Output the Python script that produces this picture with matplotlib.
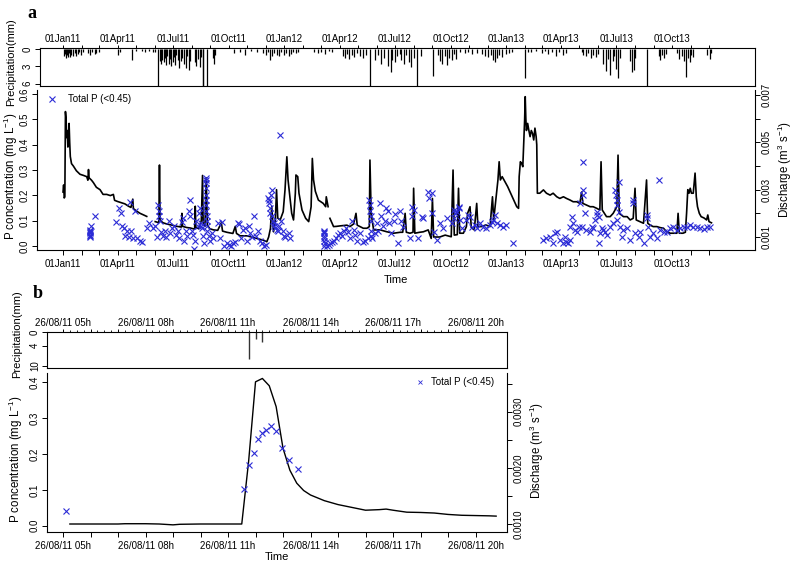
import matplotlib
matplotlib.use("Agg")
import matplotlib.pyplot as plt
from matplotlib.lines import Line2D
from datetime import datetime, timedelta
import numpy as np

plt.rcParams['font.family'] = ['Liberation Sans', 'DejaVu Sans']
plt.rcParams['mathtext.fontset'] = 'custom'
plt.rcParams['mathtext.rm'] = 'Liberation Sans'
plt.rcParams['mathtext.it'] = 'Liberation Sans:italic'
plt.rcParams['mathtext.bf'] = 'Liberation Sans:bold'

# ===================== DATA : panel a (days since 2011-01-01) =====================
# discharge, in 10^-3 m3/s, three continuous segments (gaps between them)
discharge_a_seg1 = [
    (0, 2.9), (1, 3.2), (2, 2.65), (3, 2.7), (4, 6.3), (5, 6.0), (6, 5.2), (7, 5.5), (8, 4.8),
    (9, 5.0), (10, 5.8), (11, 5.0), (12, 4.4), (14, 4.1), (17, 4.0), (22, 3.8), (28, 3.65),
    (34, 3.6), (39, 3.55), (41, 3.4), (42, 3.85), (43, 3.5), (47, 3.4), (50, 3.3), (55, 3.1),
    (61, 3.0), (66, 2.8), (72, 2.8), (78, 2.75), (83, 2.8), (85, 2.55), (90, 2.5), (96, 2.45),
    (102, 2.4), (108, 2.3), (112, 2.25), (115, 2.6), (116, 2.2), (121, 2.1), (127, 2.0),
    (133, 1.93), (138, 1.87)]
discharge_a_seg2 = [
    (152, 1.65), (156, 1.62), (158, 1.6), (159, 4.04), (160, 1.7), (165, 1.6), (171, 1.55),
    (180, 1.5), (188, 1.45), (195, 1.42), (196, 2.0), (197, 1.45), (204, 1.4), (210, 1.38),
    (217, 1.33), (218, 2.3), (219, 1.4), (224, 1.35), (228, 1.7), (230, 3.6), (231, 1.6),
    (234, 1.45), (236, 3.5), (238, 1.5), (242, 1.35), (248, 1.3), (255, 1.28), (261, 1.6),
    (263, 1.25), (270, 1.2), (280, 1.15), (284, 1.45), (286, 1.15), (292, 1.05), (303, 1.05),
    (314, 0.98), (325, 0.9), (331, 0.86), (336, 0.8), (339, 1.0), (342, 1.37), (344, 2.28),
    (347, 1.22), (350, 1.72), (352, 3.0), (354, 1.8), (358, 1.72), (363, 2.07), (366, 3.0),
    (369, 4.39), (371, 3.41), (374, 2.7), (377, 2.0), (380, 1.72), (383, 2.85), (384, 3.62),
    (387, 3.55), (389, 2.85), (394, 2.14), (400, 1.79), (405, 1.65), (409, 2.28), (411, 4.32),
    (413, 3.41), (416, 2.93), (421, 2.56), (429, 2.42), (433, 2.28), (434, 2.7), (437, 2.28)]
discharge_a_seg3 = [
    (440, 1.79), (446, 1.44), (451, 1.45), (457, 1.47), (468, 1.5), (473, 1.44), (479, 1.55),
    (483, 2.0), (485, 1.5), (495, 1.37), (501, 1.37), (505, 1.44), (506, 4.25), (508, 2.0),
    (512, 1.3), (523, 1.3), (534, 1.22), (545, 1.16), (556, 1.2), (560, 1.2), (564, 2.0),
    (566, 1.2), (572, 1.16), (577, 1.2), (578, 3.06), (580, 1.16), (588, 1.2), (594, 1.22),
    (602, 1.3), (607, 0.94), (609, 2.63), (611, 1.0), (621, 1.0), (630, 1.08), (640, 1.01),
    (643, 3.83), (645, 1.08), (650, 1.1), (652, 3.06), (654, 1.16), (660, 1.16), (665, 1.44),
    (667, 2.0), (671, 2.28), (673, 1.4), (678, 1.3), (682, 2.42), (684, 1.44), (690, 1.44),
    (697, 1.51), (704, 1.44), (708, 2.7), (710, 1.72), (714, 2.7), (717, 3.41), (719, 4.18),
    (721, 3.41), (724, 3.55), (727, 3.41), (733, 3.13), (738, 2.85), (743, 2.56), (748, 2.28),
    (751, 2.21), (752, 3.55), (754, 4.18), (756, 4.11), (758, 3.97), (760, 5.3), (761, 5.94),
    (762, 6.93), (763, 6.0), (764, 5.5), (766, 5.8), (768, 5.5), (770, 5.24), (772, 5.5),
    (774, 5.38), (776, 5.1), (778, 5.6), (780, 5.24), (781, 4.9), (782, 2.85), (786, 2.85),
    (792, 2.99), (797, 2.85), (803, 2.77), (808, 2.85), (814, 2.7), (819, 2.63), (825, 2.7),
    (830, 2.63), (836, 2.56), (841, 2.49), (847, 2.49), (852, 2.42), (855, 2.9), (857, 2.42),
    (863, 2.35), (869, 2.28), (874, 2.28), (880, 2.21), (885, 2.14), (887, 4.18), (889, 2.14),
    (896, 1.86), (902, 1.86), (907, 2.0), (913, 2.28), (915, 4.46), (917, 2.0), (924, 1.86),
    (930, 1.86), (935, 1.72), (940, 1.79), (943, 3.06), (945, 1.72), (951, 1.65), (957, 1.58),
    (962, 3.41), (964, 1.58), (968, 1.5), (973, 1.44), (979, 1.44), (984, 1.4), (990, 1.37),
    (995, 1.22), (1001, 1.16), (1006, 1.16), (1012, 1.16), (1014, 2.0), (1016, 1.16),
    (1022, 1.16), (1026, 1.2), (1028, 2.0), (1030, 3.0), (1032, 2.85), (1034, 3.06),
    (1036, 2.85), (1039, 2.85), (1042, 3.7), (1044, 2.7), (1046, 2.28), (1049, 2.0),
    (1052, 1.86), (1057, 1.8), (1061, 1.72), (1063, 1.93), (1065, 1.65), (1069, 1.6)]

# total P (<0.45) concentration, mg/L
total_p_a = [
    (45, 0.035), (45, 0.04), (45, 0.045), (45, 0.05), (45, 0.055), (45, 0.06), (45, 0.065),
    (46, 0.08), (52, 0.12),
    (88, 0.095), (92, 0.15), (95, 0.13), (98, 0.08), (100, 0.07), (102, 0.04), (105, 0.06),
    (108, 0.035), (110, 0.175), (112, 0.06), (115, 0.03), (118, 0.14), (122, 0.03),
    (127, 0.02), (130, 0.015),
    (138, 0.07), (142, 0.09), (148, 0.07), (152, 0.08), (155, 0.035), (157, 0.16), (158, 0.14),
    (159, 0.12), (160, 0.1), (162, 0.055), (165, 0.04), (168, 0.06), (170, 0.035), (174, 0.1),
    (176, 0.05), (180, 0.07), (183, 0.08), (186, 0.045), (189, 0.06), (192, 0.03), (196, 0.095),
    (198, 0.11), (200, 0.02), (203, 0.06), (205, 0.04),
    (207, 0.14), (209, 0.18), (210, 0.12), (212, 0.06), (214, 0.045), (216, -0.01), (218, 0.02),
    (220, 0.1), (222, 0.08), (224, 0.13), (226, 0.15), (227, 0.09), (228, 0.08), (229, 0.07),
    (231, 0.04), (233, 0.01),
    (235, 0.27), (235, 0.26), (235, 0.25), (235, 0.23), (236, 0.2), (236, 0.18), (236, 0.16),
    (236, 0.14), (237, 0.12), (237, 0.1), (237, 0.08), (238, 0.06), (240, 0.04), (242, 0.02),
    (245, 0.05), (248, 0.03),
    (255, 0.09), (258, 0.03), (262, 0.095), (266, 0.0), (270, 0.01), (274, 0.005), (277, 0.0),
    (280, 0.01), (284, 0.015), (288, 0.09), (290, 0.085), (293, 0.03), (297, 0.065), (300, 0.07),
    (303, 0.02), (306, 0.08), (309, 0.05), (311, 0.035), (315, 0.12), (318, 0.04), (322, 0.06),
    (325, 0.02), (328, 0.01), (332, 0.0), (334, 0.005),
    (338, 0.19), (339, 0.18), (340, 0.17), (341, 0.15), (342, 0.13), (343, 0.2), (344, 0.22),
    (345, 0.12), (346, 0.1), (347, 0.09), (348, 0.08), (350, 0.07), (352, 0.065), (354, 0.06),
    (356, 0.08), (358, 0.44), (360, 0.1), (362, 0.06), (364, 0.04), (366, 0.035), (372, 0.05),
    (375, 0.03),
    (431, 0.06), (431, 0.055), (431, 0.05), (431, 0.04), (431, 0.03), (431, 0.02), (431, 0.0),
    (432, 0.01), (435, 0.0), (438, 0.005), (440, 0.01), (443, 0.015), (447, 0.02), (450, 0.03),
    (453, 0.045), (456, 0.05), (460, 0.04), (463, 0.06), (466, 0.07), (470, 0.055), (473, 0.03),
    (476, 0.1), (479, 0.065), (482, 0.045), (485, 0.02), (490, 0.05), (495, 0.015), (498, 0.02),
    (502, 0.03),
    (505, 0.18), (506, 0.16), (506, 0.14), (507, 0.12), (507, 0.1), (508, 0.06), (508, 0.04),
    (510, 0.03), (514, 0.05), (517, 0.09), (520, 0.06), (522, 0.17), (525, 0.12), (528, 0.08),
    (530, 0.1), (533, 0.15), (536, 0.14), (538, 0.09), (541, 0.05), (545, 0.1), (548, 0.125),
    (552, 0.01),
    (556, 0.14), (558, 0.10), (561, 0.076), (572, 0.03), (576, 0.155), (576, 0.12), (578, 0.142),
    (586, 0.03), (591, 0.116), (594, 0.109), (602, 0.214), (604, 0.188), (608, 0.208),
    (609, 0.129), (611, 0.057), (616, 0.024), (622, 0.089), (627, 0.070), (633, 0.109),
    (641, 0.089), (644, 0.142), (645, 0.109), (646, 0.129), (649, 0.135), (652, 0.149),
    (653, 0.155), (654, 0.103), (657, 0.070), (665, 0.103), (668, 0.122), (671, 0.116),
    (674, 0.076), (679, 0.083), (682, 0.070), (687, 0.089), (693, 0.076), (698, 0.070),
    (704, 0.083), (707, 0.096), (709, 0.103), (712, 0.122), (715, 0.089), (720, 0.083),
    (726, 0.076), (731, 0.083), (742, 0.011),
    (792, 0.024), (797, 0.030), (803, 0.037), (808, 0.011), (811, 0.050), (814, 0.057),
    (819, 0.024), (825, 0.011), (828, 0.037), (830, 0.017), (833, 0.013), (836, 0.024),
    (836, 0.076), (839, 0.116), (841, 0.089), (844, 0.063), (847, 0.057), (850, 0.076),
    (852, 0.168), (855, 0.076), (857, 0.33), (858, 0.221), (858, 0.201), (861, 0.129),
    (863, 0.063), (869, 0.057), (872, 0.076), (874, 0.070), (877, 0.103), (880, 0.135),
    (881, 0.122), (883, 0.116), (883, 0.011), (885, 0.050), (888, 0.070), (891, 0.063),
    (894, 0.057), (896, 0.043), (902, 0.076), (907, 0.089), (910, 0.221), (912, 0.201),
    (913, 0.182), (913, 0.162), (914, 0.103), (916, 0.254), (916, 0.135), (918, 0.076),
    (921, 0.037), (924, 0.063), (929, 0.070), (935, 0.024), (940, 0.182), (940, 0.168),
    (943, 0.050), (949, 0.037), (951, 0.057), (957, 0.011), (962, 0.122), (962, 0.109),
    (965, 0.076), (968, 0.037), (973, 0.050), (979, 0.030), (982, 0.26), (984, 0.063),
    (990, 0.057), (995, 0.057), (1001, 0.070), (1006, 0.076), (1012, 0.063), (1017, 0.070),
    (1023, 0.076), (1028, 0.076), (1034, 0.083), (1039, 0.076), (1045, 0.076), (1050, 0.070),
    (1056, 0.066), (1061, 0.076), (1067, 0.076)]

# daily precipitation, mm (values above 6 run off the axis)
precip_a = [
    (2, 1.2), (3, 0.8), (5, 1.5), (6, 1.0), (8, 1.3), (10, 0.7), (12, 1.4), (14, 0.9), (16, 1.1),
    (19, 0.6), (21, 1.2), (24, 0.8), (27, 0.5), (30, 0.9), (33, 0.4), (42, 0.6), (45, 1.0),
    (47, 0.5), (52, 0.8), (55, 0.7), (59, 0.4), (91, 0.9), (94, 0.5), (113, 1.8), (121, 0.3),
    (130, 0.3), (136, 0.4), (142, 0.3), (148, 0.5), (152, 0.4), (157, 10.0), (160, 2.0),
    (162, 2.5), (164, 1.8), (166, 2.2), (168, 1.5), (170, 2.8), (172, 1.2), (174, 2.5),
    (176, 1.6), (178, 3.0), (181, 2.2), (183, 1.4), (185, 2.8), (187, 1.0), (190, 1.8),
    (192, 3.2), (195, 2.0), (197, 1.5), (200, 2.6), (203, 3.3), (205, 1.2), (208, 3.6),
    (210, 2.0), (218, 2.2), (220, 2.9), (223, 1.7), (226, 3.1), (228, 1.4), (230, 10.0),
    (231, 10.0), (238, 10.0), (247, 1.5), (249, 2.5), (251, 1.0), (282, 0.6), (292, 0.4),
    (300, 1.0), (310, 0.3), (320, 0.4), (330, 0.6), (335, 0.9), (338, 0.5), (342, 1.8),
    (345, 1.2), (348, 0.7), (352, 0.9), (356, 1.1), (360, 0.5), (364, 1.0), (368, 0.6),
    (372, 1.2), (376, 0.8), (380, 0.5), (384, 0.7), (388, 0.4), (414, 0.5), (420, 0.6),
    (426, 0.4), (432, 0.8), (438, 0.3), (444, 0.5), (462, 1.1), (465, 1.5), (468, 0.8),
    (472, 1.6), (476, 1.0), (480, 1.3), (485, 0.7), (490, 1.2), (495, 1.5), (500, 0.9),
    (506, 10.0), (515, 1.8), (520, 0.9), (525, 2.5), (530, 1.5), (535, 3.0), (540, 4.0),
    (543, 1.8), (547, 2.2), (551, 1.2), (555, 0.8), (558, 1.8), (562, 2.6), (566, 1.0),
    (570, 2.2), (574, 3.1), (578, 1.5), (583, 10.0), (591, 1.1), (610, 4.7), (619, 0.9),
    (622, 2.0), (625, 2.5), (629, 1.2), (633, 2.8), (637, 1.5), (641, 1.8), (644, 0.8),
    (648, 1.6), (655, 0.5), (662, 0.7), (668, 0.4), (675, 0.8), (682, 0.6), (690, 0.8),
    (695, 1.1), (700, 1.4), (705, 0.9), (709, 1.8), (712, 2.2), (715, 1.5), (719, 1.0),
    (724, 1.3), (730, 0.8), (736, 0.6), (740, 0.5), (762, 5.1), (766, 0.5), (772, 0.4),
    (780, 0.3), (790, 0.6), (795, 0.3), (800, 0.8), (806, 0.4), (812, 1.1), (818, 0.5),
    (825, 0.9), (830, 0.6), (855, 0.5), (858, 0.9), (862, 1.2), (866, 0.7), (870, 1.5),
    (874, 1.0), (878, 1.3), (882, 0.8), (891, 2.5), (895, 3.8), (898, 1.6), (902, 4.5),
    (906, 2.0), (909, 1.2), (912, 3.5), (915, 5.0), (918, 1.5), (935, 2.0), (938, 4.0),
    (941, 3.6), (943, 1.5), (962, 10.0), (982, 1.2), (985, 1.8), (988, 1.0), (991, 1.5),
    (994, 0.8), (1012, 0.6), (1016, 1.6), (1020, 1.2), (1024, 2.0), (1027, 4.9), (1030, 1.5),
    (1033, 2.2), (1036, 1.0), (1039, 1.4), (1062, 0.9), (1066, 1.6), (1069, 0.7)]

# ===================== DATA : panel b (26/08/2011) =====================
discharge_b = [  # time, 10^-3 m3/s
    ("05:15", 1.005), ("06:00", 1.005), ("07:00", 1.005), ("07:15", 1.01), ("08:00", 1.01),
    ("08:30", 1.005), ("09:00", 0.99), ("09:15", 1.0), ("10:00", 1.005), ("11:00", 1.005),
    ("11:30", 1.005), ("11:45", 2.12), ("12:00", 3.53), ("12:15", 3.59), ("12:30", 3.46),
    ("12:45", 3.09), ("13:00", 2.35), ("13:15", 1.96), ("13:30", 1.73), ("13:45", 1.6),
    ("14:00", 1.52), ("14:30", 1.42), ("15:00", 1.35), ("15:30", 1.30), ("16:00", 1.25),
    ("16:30", 1.26), ("16:45", 1.27), ("17:00", 1.25), ("17:30", 1.215), ("18:00", 1.21),
    ("18:30", 1.20), ("19:00", 1.175), ("19:30", 1.16), ("20:00", 1.155), ("20:30", 1.15),
    ("20:45", 1.145)]
total_p_b = [  # time, mg/L
    ("05:06", 0.042), ("11:35", 0.102), ("11:46", 0.169), ("11:57", 0.203), ("12:05", 0.241),
    ("12:15", 0.259), ("12:23", 0.266), ("12:33", 0.278), ("12:44", 0.264), ("12:57", 0.218),
    ("13:13", 0.184), ("13:32", 0.157)]
precip_b = [("11:45", 8.0), ("12:00", 2.1), ("12:15", 3.0)]  # mm

Q_UNIT = 1e-3
BLUE = '#2b2bd6'

# ===================== helpers =====================
W, H = 793, 564
fig = plt.figure(figsize=(W / 100, H / 100), dpi=100)


def rect(x0, y0, x1, y1):
    return [x0 / W, 1 - y1 / H, (x1 - x0) / W, (y1 - y0) / H]


def fxy(x, y):
    return x / W, 1 - y / H


BASE_A = datetime(2011, 1, 1)
BASE_B = datetime(2011, 8, 26)


def dday(d):
    return BASE_A + timedelta(days=d)


def dtime(s):
    h, m = s.split(":")
    return BASE_B + timedelta(hours=int(h), minutes=int(m))


def hours(h):
    return BASE_B + timedelta(hours=h)


TICK = dict(direction='out', length=3.6, width=0.7, labelsize=7, pad=1.5, colors='black')
TOPTICK = dict(axis='x', top=True, bottom=False, labeltop=True, labelbottom=False,
               length=2.4, pad=0.6)


def spines(ax, show):
    for k, s in ax.spines.items():
        s.set_visible(k in show)
        s.set_linewidth(0.8)


def center_ylabels(ax):
    ax.tick_params(axis='y', labelrotation=90)
    for lbl in ax.get_yticklabels():
        lbl.set_va('center')


# month ticks for panel a
month_ticks = [datetime(2011 + m // 12, m % 12 + 1, 1) for m in range(36)]
month_labels = [t.strftime('%d%b%y') if t.month in (1, 4, 7, 10) else '' for t in month_ticks]
hour_ticks = [hours(h) for h in range(5, 21)]
hour_labels = [t.strftime('%d/%m/%y %Hh') if (t.hour - 5) % 3 == 0 else '' for t in hour_ticks]
qh_ticks = [hours(5 + q / 4) for q in range(0, 62)]

# ===================== panel a : precipitation =====================
axp = fig.add_axes(rect(40, 48, 755, 86))
pd_, pv_ = zip(*precip_a)
axp.vlines([dday(d) for d in pd_], 0, pv_, colors='black', lw=0.9)
axp.set_xlim(dday(-37.9), dday(1140.8))
axp.set_ylim(6.44, -0.26)
axp.set_yticks([0, 3, 6])
axp.set_yticklabels(['0', '3', '6'])
axp.set_xticks(month_ticks)
axp.set_xticklabels(month_labels)
axp.tick_params(**TICK)
axp.tick_params(**TOPTICK)
center_ylabels(axp)
spines(axp, ['left', 'right', 'top', 'bottom'])

# ===================== panel a : concentration + discharge =====================
ax = fig.add_axes(rect(37, 90, 755, 250))
tp_d, tp_v = zip(*total_p_a)
ax.plot([dday(d) for d in tp_d], tp_v, ls='none', marker='x', color=BLUE, ms=4.2, mew=0.8)
ax.set_ylim(-0.0158, 0.6158)
ax.set_yticks([0, 0.1, 0.2, 0.3, 0.4, 0.5, 0.6])
ax.set_yticklabels(['0.0', '0.1', '0.2', '0.3', '0.4', '0.5', '0.6'])
ax.set_xlim(dday(-42.9), dday(1140.8))
ax.set_xticks(month_ticks)
ax.set_xticklabels(month_labels)
ax.tick_params(**TICK)
ax.tick_params(axis='x', pad=3)
center_ylabels(ax)
spines(ax, ['left', 'bottom'])

ax2 = ax.twinx()
for seg in (discharge_a_seg1, discharge_a_seg2, discharge_a_seg3):
    d, v = zip(*seg)
    ax2.plot([dday(x) for x in d], [q * Q_UNIT for q in v], color='black', lw=1.2)
ax2.set_ylim(0.000451, 0.007211)
ax2.set_yticks([0.001 * i for i in range(1, 8)])
ax2.set_yticklabels(['0.001', '', '0.003', '', '0.005', '', '0.007'])
ax2.tick_params(**TICK)
center_ylabels(ax2)
spines(ax2, ['right'])
ax.set_zorder(ax2.get_zorder() + 1)
ax.patch.set_visible(False)

ax.legend(handles=[Line2D([], [], ls='none', marker='x', color=BLUE, ms=4.2, mew=0.8)],
          labels=['Total P (<0.45)'], loc='center left', bbox_to_anchor=fxy(47, 99),
          bbox_transform=fig.transFigure, frameon=False, fontsize=7, handlelength=1.0,
          handletextpad=1.15, borderpad=0, borderaxespad=0)

# ===================== panel b : precipitation =====================
bxp = fig.add_axes(rect(47, 332, 507, 368))
bt, bv = zip(*precip_b)
bxp.vlines([dtime(t) for t in bt], 0, bv, colors='#333333', lw=1.0)
bxp.set_xlim(hours(4.418), hours(21.145))
bxp.set_ylim(10.68, -0.1)
bxp.set_yticks([0, 4, 10])
bxp.set_yticklabels(['0', '4', '10'])
bxp.set_xticks(hour_ticks)
bxp.set_xticklabels(hour_labels)
bxp.set_xticks(qh_ticks, minor=True)
bxp.tick_params(**TICK)
bxp.tick_params(axis='x', which='minor', top=True, bottom=False, direction='out', length=1.3, width=0.6)
bxp.tick_params(**TOPTICK)
center_ylabels(bxp)
spines(bxp, ['left', 'right', 'top', 'bottom'])

# ===================== panel b : concentration + discharge =====================
bx = fig.add_axes(rect(47, 373, 507, 532))
tt, tv = zip(*total_p_b)
bx.plot([dtime(t) for t in tt], tv, ls='none', marker='x', color=BLUE, ms=4.5, mew=0.8)
bx.set_ylim(-0.0176, 0.426)
bx.set_yticks([0, 0.1, 0.2, 0.3, 0.4])
bx.set_yticklabels(['0.0', '0.1', '0.2', '0.3', '0.4'])
bx.set_xlim(hours(4.418), hours(21.145))
bx.set_xticks(hour_ticks)
bx.set_xticklabels(hour_labels)
bx.tick_params(**TICK)
bx.tick_params(axis='x', pad=3)
center_ylabels(bx)
spines(bx, ['left', 'bottom'])

bx2 = bx.twinx()
qt, qv = zip(*discharge_b)
bx2.plot([dtime(t) for t in qt], [q * Q_UNIT for q in qv], color='black', lw=1.0)
bx2.set_ylim(0.000863, 0.003687)
bx2.set_yticks([0.0010, 0.0015, 0.0020, 0.0025, 0.0030, 0.0035])
bx2.set_yticklabels(['0.0010', '', '0.0020', '', '0.0030', ''])
bx2.tick_params(**TICK)
center_ylabels(bx2)
spines(bx2, ['right'])
bx.set_zorder(bx2.get_zorder() + 1)
bx.patch.set_visible(False)

bx.legend(handles=[Line2D([], [], ls='none', marker='x', color=BLUE, ms=2.5, mew=0.6)],
          labels=['Total P (<0.45)'], loc='center left', bbox_to_anchor=fxy(415, 382),
          bbox_transform=fig.transFigure, frameon=False, fontsize=7, handlelength=1.0,
          handletextpad=0.65, borderpad=0, borderaxespad=0)

# ===================== labels =====================
LAB = 8
LAB2 = 8.3
fig.text(*fxy(32, 13), 'a', family='Liberation Serif', weight='bold', size=13, ha='center', va='center')
fig.text(*fxy(38, 294), 'b', family='Liberation Serif', weight='bold', size=13, ha='center', va='center')

fig.text(*fxy(11, 62), 'Precipitation(mm)', rotation=90, size=LAB, ha='center', va='center')
fig.text(*fxy(10.5, 176), 'P concentration (mg L$^{-1}$)', rotation=90, size=LAB2, ha='center', va='center')
fig.text(*fxy(785, 169), 'Discharge (m$^{3}$ s$^{-1}$)', rotation=90, size=LAB2, ha='center', va='center')
fig.text(*fxy(396, 280), 'Time', size=LAB, ha='center', va='center')

fig.text(*fxy(17, 334), 'Precipitation(mm)', rotation=90, size=LAB, ha='center', va='center')
fig.text(*fxy(16, 459), 'P concentration (mg L$^{-1}$)', rotation=90, size=LAB2, ha='center', va='center')
fig.text(*fxy(537, 450), 'Discharge (m$^{3}$ s$^{-1}$)', rotation=90, size=LAB2, ha='center', va='center')
fig.text(*fxy(277, 557), 'Time', size=LAB, ha='center', va='center')

fig.savefig('out.png', dpi=100)
